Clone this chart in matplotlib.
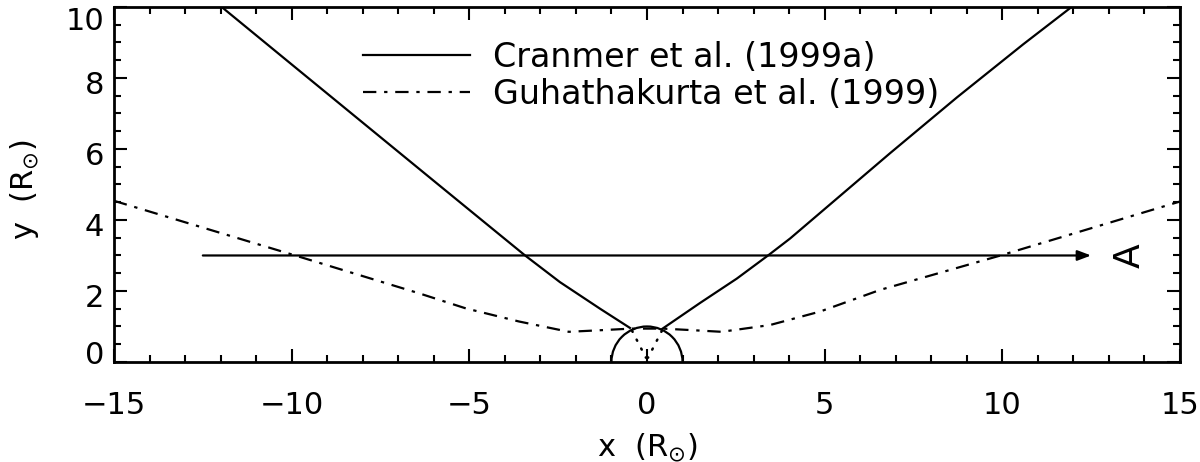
import numpy as np
import matplotlib
matplotlib.use('Agg')
import matplotlib.pyplot as plt
import matplotlib.transforms as mtransforms
from matplotlib.patches import Arc
from matplotlib.ticker import MultipleLocator

plt.rcParams['font.family'] = ['DejaVu Sans']
plt.rcParams['mathtext.fontset'] = 'dejavusans'

# Cranmer et al. (1999a) boundary, left and right branches
cran_left_x = [-11.97, -9.9, -7.9, -5.9, -4.14, -3.43, -2.45, -1.32, -0.48]
cran_left_y = [10.0, 8.3, 6.66, 5.02, 3.58, 3.0, 2.25, 1.5, 0.96]
cran_right_x = [0.41, 1.49, 2.53, 3.42, 4.03, 6.84, 8.72, 10.59, 11.95]
cran_right_y = [0.92, 1.66, 2.35, 3.01, 3.48, 5.88, 7.45, 8.95, 10.0]

# Guhathakurta et al. (1999) boundary
guha_x = [-15.0, -9.9, -6.4, -5.1, -3.6, -2.2, -1.2, -0.45,
          0.45, 1.2, 2.1, 3.46, 4.87, 6.56, 9.95, 15.0]
guha_y = [4.54, 3.0, 1.93, 1.51, 1.14, 0.85, 0.9, 0.94,
          0.94, 0.9, 0.85, 1.04, 1.42, 2.03, 3.0, 4.52]

# line of sight
los_x = [-12.5, 12.5]
los_y = 3.0

fig = plt.figure(figsize=(12, 4.62), dpi=100)
ax = fig.add_axes([0.095, 0.2165, 0.8883, 0.7684])

lw = 1.6
ax.plot(cran_left_x, cran_left_y, color='black', lw=lw, label='Cranmer et al. (1999a)')
ax.plot(cran_right_x, cran_right_y, color='black', lw=lw)
ax.plot(guha_x, guha_y, color='black', lw=lw, dashes=(6, 3.5, 1.5, 3.5),
        label='Guhathakurta et al. (1999)')

# sun
ax.add_patch(Arc((0, 0), 2, 2, theta1=0, theta2=180, color='black', lw=lw))
ax.plot([-0.42, -0.03], [0.88, 0.12], color='black', lw=1.8, ls=(0, (0.5, 3.5)),
        dash_capstyle='round')
ax.plot([0.42, 0.03], [0.88, 0.12], color='black', lw=1.8, ls=(0, (0.5, 3.5)),
        dash_capstyle='round')

ax.annotate('', xy=(los_x[1], los_y), xytext=(los_x[0], los_y),
            arrowprops=dict(arrowstyle='-|>,head_length=0.45,head_width=0.17',
                            color='black', lw=lw, mutation_scale=18,
                            shrinkA=0, shrinkB=0))
ax.text(13.6, los_y, 'A', rotation=90, ha='center', va='center', fontsize=26)

ax.set_xlim(-15, 15)
ax.set_ylim(0, 10)
ax.xaxis.set_major_locator(MultipleLocator(5))
ax.xaxis.set_minor_locator(MultipleLocator(1))
ax.yaxis.set_major_locator(MultipleLocator(2))
ax.yaxis.set_minor_locator(MultipleLocator(0.5))
ax.tick_params(which='both', direction='in', top=True, right=True, width=1.5,
               labelsize=22)
ax.tick_params(which='major', length=9.5)
ax.tick_params(which='minor', length=5)
ax.tick_params(axis='x', pad=21)
ax.tick_params(axis='y', pad=7)
for s in ax.spines.values():
    s.set_linewidth(2)

# IDL-style vertical shifts of the y tick labels
fig.canvas.draw()
for lab in ax.get_yticklabels():
    v = lab.get_position()[1]
    dy = -5
    if v == 0:
        dy = 9
    elif v == 10:
        dy = -12
    lab.set_transform(lab.get_transform() +
                      mtransforms.ScaledTranslation(0, dy / 100, fig.dpi_scale_trans))

ax.set_xlabel(r'x  (R$_{\odot}$)', fontsize=22)
ax.xaxis.set_label_coords(0.5, -0.242)
ax.xaxis.label.set_verticalalignment('center')
ax.set_ylabel(r'y  (R$_{\odot}$)', fontsize=22)
ax.yaxis.set_label_coords(-0.0835, 0.485)
ax.yaxis.label.set_verticalalignment('center')

ax.legend(loc='upper left', bbox_to_anchor=(0.2336, 0.905), frameon=False,
          fontsize=24, handlelength=3.2, handletextpad=0.7, labelspacing=0.12,
          borderpad=0, borderaxespad=0)

fig.savefig('out.png', dpi=100)
